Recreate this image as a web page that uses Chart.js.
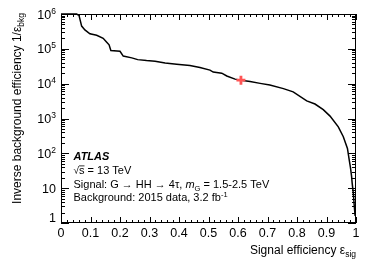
<!DOCTYPE html>
<html><head><meta charset="utf-8">
<script src="https://cdn.jsdelivr.net/npm/chart.js@4/dist/chart.umd.min.js"></script>
<style>html,body{margin:0;padding:0;background:#fff}canvas{display:block}</style>
</head><body>
<canvas id="c" width="374" height="268"></canvas>
<script>
// ROC curve: signal efficiency vs inverse background efficiency
const sigEff = [0.0, 0.053, 0.061, 0.070, 0.081, 0.098, 0.121, 0.143, 0.155, 0.163, 0.169, 0.200, 0.211, 0.240, 0.260, 0.290, 0.319, 0.353, 0.392, 0.437, 0.471, 0.505, 0.516, 0.545, 0.562, 0.590, 0.610, 0.641, 0.675, 0.708, 0.754, 0.787, 0.833, 0.861, 0.889, 0.912, 0.940, 0.957, 0.971, 0.977, 0.981, 0.985, 0.987, 0.991, 0.994, 0.997];
const invBkgEff = [1e6, 1e6, 9.1e5, 4.5e5, 3.5e5, 2.7e5, 2.45e5, 2.0e5, 1.55e5, 1.3e5, 8.9e4, 8.5e4, 6.2e4, 5.5e4, 4.9e4, 4.6e4, 4.4e4, 3.9e4, 3.6e4, 3.3e4, 2.9e4, 2.45e4, 2.15e4, 2.0e4, 1.66e4, 1.35e4, 1.26e4, 1.15e4, 1.02e4, 9.1e3, 7.2e3, 5.8e3, 3.2e3, 2.6e3, 1.8e3, 1.17e3, 575, 300, 138, 65, 40, 22, 14, 7, 3.2, 1.6];
// working point
const wpSigEff = [0.61];
const wpInvBkgEff = [12600];
// axis ticks
const xTickValues = [0, 0.1, 0.2, 0.3, 0.4, 0.5, 0.6, 0.7, 0.8, 0.9, 1];
const xTickLabels = ['0', '0.1', '0.2', '0.3', '0.4', '0.5', '0.6', '0.7', '0.8', '0.9', '1'];
const yTickValues = [1, 10, 100, 1e3, 1e4, 1e5, 1e6];
const yTickBase = ['1', '10', '10', '10', '10', '10', '10'];
const yTickExp = ['', '', '2', '3', '4', '5', '6'];
const xTitle = ['Signal efficiency ε', 'sig'];
const yTitle = ['Inverse background efficiency 1/ε', 'bkg'];

const FF = '"Liberation Sans", Arial, Helvetica, sans-serif';
function f(sz, style) { return (style ? style + ' ' : '') + sz + 'px ' + FF; }

function richWidth(ctx, parts) {
  let w = 0;
  for (const p of parts) { ctx.font = p.f; w += ctx.measureText(p.t).width + (p.sp || 0); }
  return w;
}
function drawRich(ctx, x, y, parts, align) {
  const w = richWidth(ctx, parts);
  let cx = align === 'right' ? x - w : (align === 'center' ? x - w / 2 : x);
  for (const p of parts) {
    ctx.font = p.f;
    ctx.fillText(p.t, cx, y + (p.dy || 0));
    const pw = ctx.measureText(p.t).width;
    if (p.over) {
      ctx.fillRect(cx, y + (p.dy || 0) - p.over, pw, 0.8);
    }
    cx += pw + (p.sp || 0);
  }
  return w;
}

const decor = {
  id: 'decor',
  afterDraw(chart) {
    const ctx = chart.ctx, xs = chart.scales.x, ys = chart.scales.y, ca = chart.chartArea;
    ctx.save();
    ctx.strokeStyle = '#000'; ctx.fillStyle = '#000'; ctx.lineWidth = 1;
    // frame
    ctx.strokeRect(Math.round(ca.left) + 0.5, Math.round(ca.top) + 0.5, Math.round(ca.right - ca.left) - 1, Math.round(ca.bottom - ca.top) - 1);
    ctx.beginPath();
    // x ticks
    for (let i = 0; i <= 50; i++) {
      const v = i / 50;
      const px = Math.round(xs.getPixelForValue(v)) + 0.5;
      const L = i % 5 === 0 ? 6 : 3;
      ctx.moveTo(px, ca.bottom); ctx.lineTo(px, ca.bottom - L);
      ctx.moveTo(px, ca.top); ctx.lineTo(px, ca.top + L);
    }
    // y ticks
    for (let d = 0; d < 6; d++) {
      for (let m = 1; m <= 9; m++) {
        const v = m * Math.pow(10, d);
        const py = Math.round(ys.getPixelForValue(v)) + 0.5;
        const L = m === 1 ? 8 : 4;
        ctx.moveTo(ca.left, py); ctx.lineTo(ca.left + L, py);
        ctx.moveTo(ca.right, py); ctx.lineTo(ca.right - L, py);
      }
    }
    ctx.stroke();
    // x tick labels
    ctx.textBaseline = 'alphabetic';
    ctx.font = f(12.5);
    xTickValues.forEach((v, i) => {
      ctx.textAlign = 'left';
      drawRich(ctx, xs.getPixelForValue(v), ca.bottom + 14, [{ t: xTickLabels[i], f: f(12.5) }], 'center');
    });
    // y tick labels
    yTickValues.forEach((v, i) => {
      const py = ys.getPixelForValue(v);
      const parts = [{ t: yTickBase[i], f: f(12.5) }];
      if (yTickExp[i]) parts.push({ t: yTickExp[i], f: f(8.5), dy: -5 });
      const yy = i === 0 ? py - 1 : py + 4.5;
      drawRich(ctx, ca.left - 5, yy, parts, 'right');
    });
    // x title
    drawRich(ctx, ca.right, ca.bottom + 31, [
      { t: xTitle[0], f: f(12) }, { t: xTitle[1], f: f(8.5), dy: 3 }], 'right');
    // y title
    ctx.save();
    ctx.translate(20.5, ca.top - 1);
    ctx.rotate(-Math.PI / 2);
    drawRich(ctx, 0, 0, [{ t: yTitle[0], f: f(12) }, { t: yTitle[1], f: f(8.5), dy: 3 }], 'right');
    ctx.restore();
    // annotations
    const ax = 73.5;
    drawRich(ctx, ax, 160, [{ t: 'ATLAS', f: f(11, 'italic bold') }], 'left');
    drawRich(ctx, ax, 174, [{ t: '√', f: f(10) }, { t: 's', f: f(11), over: 8.5 }, { t: ' = 13 TeV', f: f(11) }], 'left');
    drawRich(ctx, ax, 188, [{ t: 'Signal: G → HH → 4τ, ', f: f(11) }, { t: 'm', f: f(11, 'italic') }, { t: 'G', f: f(7.5), dy: 3 }, { t: ' = 1.5-2.5 TeV', f: f(11) }], 'left');
    drawRich(ctx, ax, 201, [{ t: 'Background: 2015 data, 3.2 fb', f: f(11) }, { t: '-1', f: f(7.5), dy: -4.5 }], 'left');
    ctx.restore();
  }
};

new Chart(document.getElementById('c'), {
  type: 'scatter',
  data: {
    datasets: [
      {
        data: wpSigEff.map((x, i) => ({ x: x, y: wpInvBkgEff[i] })),
        pointStyle: 'cross', pointRadius: 4.5, borderWidth: 2.8,
        borderColor: 'rgb(255,85,85)', backgroundColor: 'rgb(255,85,85)', order: 0
      },
      {
        data: sigEff.map((x, i) => ({ x: x, y: invBkgEff[i] })),
        showLine: true, borderColor: '#000', borderWidth: 1.5, pointRadius: 0,
        tension: 0, clip: 3, order: 1
      }
    ]
  },
  options: {
    responsive: false, animation: false, devicePixelRatio: 1,
    layout: { padding: { left: 61, top: 14, right: 18, bottom: 45 } },
    scales: {
      x: { type: 'linear', min: 0, max: 1, display: false },
      y: { type: 'logarithmic', min: 1, max: 1e6, display: false }
    },
    plugins: { legend: { display: false }, tooltip: { enabled: false } },
    events: []
  },
  plugins: [decor]
});
</script>
</body></html>
